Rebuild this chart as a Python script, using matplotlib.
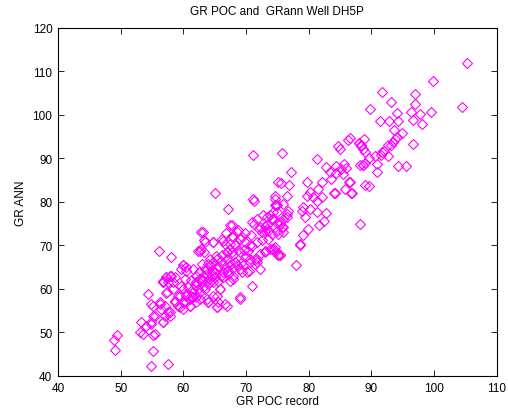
import matplotlib
matplotlib.use("Agg")
import matplotlib.pyplot as plt

plt.rcParams['font.family'] = ['Liberation Sans', 'DejaVu Sans']

x_ticks = [40, 50, 60, 70, 80, 90, 100, 110]
y_ticks = [40, 50, 60, 70, 80, 90, 100, 110, 120]

# GR POC record (x) and GR ANN (y) pairs
gr_poc = [
    49.5, 48.9, 49.1, 55.1, 54.8, 57.6, 56.2, 58.1, 56.8, 57.3,
    53.1, 53.6, 55.2, 53.3, 54.0, 54.9, 55.2, 54.9, 54.4, 56.5,
    56.8, 56.3, 57.1, 57.6, 57.3, 56.8, 57.6, 58.1, 58.7, 59.2,
    59.5, 59.7, 60.5, 61.1, 62.1, 64.0, 65.3, 58.4,
    71.1, 65.0, 71.1, 67.1, 62.9, 63.3, 64.7, 62.4, 62.8, 60.0,
    59.7, 60.5, 57.2, 56.8, 57.9, 58.4, 58.7, 57.4, 56.3, 57.1,
    57.9, 55.2, 55.5, 54.9, 56.8, 55.5, 60.0, 59.5, 58.7, 60.5,
    61.3, 61.6, 62.1, 62.6, 63.2, 63.7, 64.2, 64.8, 65.3, 66.1,
    66.9, 67.4, 68.2, 69.0, 69.8, 70.6, 66.1, 66.6, 68.0, 67.4,
    68.5, 69.3, 71.2, 72.0, 73.0, 73.3, 74.3, 74.9, 75.1, 74.6,
    74.8, 73.8, 74.6, 75.1, 71.7, 70.6, 70.1, 69.0, 68.0, 67.4,
    65.8, 65.3, 64.0, 65.3, 66.9, 69.0, 64.2, 63.4, 62.6, 62.1,
    61.0, 60.0, 59.2, 57.9,
    71.2, 67.7, 63.1, 64.8, 63.4, 62.6, 63.3, 66.4, 67.4, 68.2,
    66.9, 68.0, 69.0, 69.8, 70.6, 71.4, 72.2, 73.0, 74.4, 75.4,
    71.7, 72.2, 70.4, 69.3, 68.5, 67.4, 66.4, 65.3, 64.5, 63.7,
    62.9, 62.1, 61.6, 60.5, 60.0, 60.3, 60.8, 61.6, 62.4, 63.2,
    64.0, 64.8, 65.6, 66.4, 67.2, 68.0, 65.8, 64.8, 63.7, 62.6,
    61.6, 60.5, 60.0, 61.1, 65.6, 66.6, 69.0, 70.9, 71.4, 72.5,
    73.3, 74.1, 74.9, 75.4, 70.9, 71.7, 73.8, 74.9, 75.9, 76.5,
    75.9,
    63.5, 64.0, 64.6, 65.0, 65.5, 66.0, 66.3, 66.8, 67.0, 67.5,
    67.8, 68.3, 68.8, 69.2, 69.6, 70.0, 65.2, 64.3, 63.0, 62.5,
    62.0, 61.3, 61.8, 63.0, 64.1, 65.0, 66.0, 67.2, 68.0, 69.5,
    70.3, 71.0, 71.8, 72.5, 73.5, 70.8, 69.8, 68.8, 67.8, 66.8,
    75.7, 81.4, 84.7, 85.0, 86.2, 88.0, 88.3, 88.9, 88.6, 88.9,
    77.2, 75.5, 76.8, 74.6, 76.6, 79.8, 82.1, 82.7, 83.4, 84.3,
    85.1, 85.7, 86.0, 85.4, 84.4, 83.6, 86.5, 86.8, 85.8, 84.2,
    80.2, 81.5, 80.7, 82.1, 81.3, 79.7, 88.2, 89.0, 88.1, 79.1,
    78.9, 80.2, 79.4, 81.3, 82.7, 81.7, 82.5, 79.9, 79.1, 78.6,
    78.0, 84.0, 72.2, 73.0, 73.5, 72.7, 73.3, 74.1, 74.3, 74.6,
    74.9, 75.4, 75.9, 76.5, 76.7, 75.7, 75.9, 75.1, 74.6, 74.1,
    73.0, 75.1, 78.6, 75.4,
    105.3, 99.8, 91.7, 96.9, 93.2, 97.0, 89.8, 104.5, 94.0, 96.3,
    97.8, 99.5, 91.4, 92.8, 94.2, 96.7, 98.0, 93.6, 94.8, 94.1,
    93.7, 93.4, 93.1, 92.6, 96.6, 88.8, 88.0, 88.3, 88.7, 86.6,
    89.6, 90.6, 91.6, 92.0, 91.7, 92.6, 88.7, 90.9, 90.9, 94.3,
    95.5, 89.6, 86.6, 86.9,
]
gr_ann = [
    49.4, 48.3, 46.0, 45.8, 42.2, 42.8, 68.8, 67.3, 61.9, 62.7,
    50.0, 49.7, 49.4, 52.5, 51.6, 52.0, 53.7, 56.6, 58.9, 55.4,
    52.3, 56.6, 53.9, 54.8, 59.1, 61.5, 61.5, 63.1, 56.9, 58.5,
    55.8, 60.8, 58.5, 57.7, 58.1, 57.1, 55.8, 60.0,
    90.8, 82.0, 80.7, 78.5, 73.2, 71.3, 70.9, 68.8, 69.2, 65.4,
    64.6, 65.0, 62.7, 61.7, 63.1, 61.5, 62.7, 59.2, 56.9, 56.2,
    54.6, 56.2, 53.9, 52.3, 52.3, 49.6, 60.0, 58.5, 57.3, 56.9,
    58.5, 60.0, 61.5, 62.3, 63.1, 64.6, 65.4, 66.1, 66.9, 67.7,
    68.4, 69.2, 70.0, 71.5, 70.7, 70.0, 71.5, 70.3, 71.9, 74.6,
    73.0, 71.9, 74.9, 73.8, 73.4, 74.6, 76.1, 77.6, 84.5, 80.7,
    79.2, 69.2, 68.4, 67.7, 66.9, 66.1, 63.8, 64.6, 63.1, 61.9,
    60.0, 58.5, 56.9, 55.8, 56.2, 57.7, 61.5, 60.0, 59.2, 56.9,
    56.2, 55.4, 56.2, 53.9,
    80.3, 74.7, 73.0, 70.9, 70.7, 68.8, 68.4, 71.1, 70.3, 70.0,
    68.4, 67.7, 68.4, 67.3, 66.9, 66.9, 68.0, 68.8, 69.2, 67.7,
    66.1, 64.6, 64.2, 63.8, 65.4, 66.1, 65.4, 64.6, 64.2, 63.4,
    62.3, 61.5, 64.6, 64.2, 65.4, 62.3, 60.4, 59.2, 60.0, 60.4,
    61.2, 61.5, 61.9, 62.7, 63.4, 62.3, 60.0, 58.5, 57.7, 57.7,
    58.1, 58.9, 56.9, 56.2, 56.9, 56.6, 58.1, 60.8, 65.8, 73.0,
    73.8, 72.6, 73.4, 74.9, 75.3, 76.1, 76.9, 79.2, 79.5, 76.5,
    74.2,
    64.5, 65.8, 63.0, 64.0, 65.2, 66.5, 63.8, 64.9, 67.0, 65.5,
    68.5, 66.3, 69.0, 66.0, 68.9, 67.5, 67.5, 66.8, 65.8, 64.0,
    63.0, 62.0, 61.0, 61.8, 62.2, 62.8, 63.0, 64.2, 64.8, 65.5,
    68.8, 69.8, 70.8, 71.3, 71.5, 72.5, 72.8, 73.5, 72.2, 72.9,
    91.3, 89.9, 92.8, 92.2, 94.3, 93.6, 92.8, 91.4, 88.5, 89.0,
    86.8, 84.3, 84.0, 81.3, 81.3, 84.7, 84.5, 88.0, 86.8, 88.3,
    87.6, 88.7, 87.7, 86.4, 86.6, 85.3, 84.7, 82.0, 83.0, 82.1,
    82.4, 83.0, 81.1, 81.1, 80.3, 81.3, 88.5, 83.9, 74.9, 78.8,
    78.0, 78.4, 76.5, 77.6, 77.5, 74.7, 75.7, 73.8, 72.3, 70.1,
    65.5, 82.1, 74.2, 74.4, 73.4, 77.0, 76.5, 76.1, 77.6, 79.2,
    75.2, 75.4, 76.1, 77.2, 78.0, 74.2, 73.1, 72.7, 69.7, 69.2,
    68.4, 67.8, 70.3, 67.7,
    112.0, 107.9, 105.2, 104.8, 102.9, 102.5, 101.4, 101.9, 100.5, 100.6,
    100.2, 100.6, 98.7, 98.7, 98.7, 98.9, 97.9, 96.6, 95.9, 95.0,
    94.5, 93.8, 93.2, 93.0, 93.3, 94.5, 93.6, 93.0, 92.2, 94.6,
    90.0, 90.6, 90.8, 91.8, 91.4, 90.5, 88.5, 88.7, 87.0, 88.2,
    88.2, 83.7, 84.5, 82.1,
]

fig = plt.figure(figsize=(5.08, 4.14), dpi=100)
ax = fig.add_axes([0.114, 0.0894, 0.864, 0.8406])
ax.plot(gr_poc, gr_ann, linestyle='none', marker='D', markersize=4.6,
        markerfacecolor='none', markeredgecolor='#ff00ff', markeredgewidth=0.8)

ax.set_xlim(40, 110)
ax.set_ylim(40, 120)
ax.set_xticks(x_ticks)
ax.set_yticks(y_ticks)
ax.tick_params(direction='in', top=True, right=True, length=4, width=0.6,
               labelsize=8.5, pad=4)
for s in ax.spines.values():
    s.set_linewidth(0.8)
ax.set_title('GR POC and  GRann Well DH5P', fontsize=8.5, pad=10)
ax.set_xlabel('GR POC record', fontsize=8.5, labelpad=1)
ax.set_ylabel('GR ANN', fontsize=8.5, labelpad=4)

fig.savefig('out.png', dpi=100)
